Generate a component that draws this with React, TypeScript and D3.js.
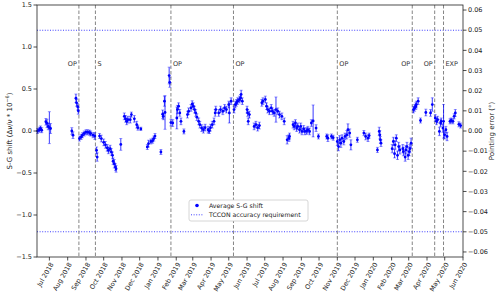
import React, { useEffect, useRef } from 'react';
import * as d3 from 'd3';

// average S-G shift per day: date, shift, 1-sigma error
const dates = [
  '2018-06-11', '2018-06-14', '2018-06-16', '2018-06-18', '2018-06-25', '2018-06-27', '2018-06-29', '2018-07-01', '2018-07-03',
  '2018-08-08', '2018-08-10', '2018-08-15', '2018-08-16', '2018-08-18', '2018-08-19',
  '2018-08-21', '2018-08-24', '2018-08-26', '2018-08-29', '2018-09-01', '2018-09-04', '2018-09-07', '2018-09-09', '2018-09-13', '2018-09-16',
  '2018-09-19', '2018-09-20', '2018-09-24', '2018-09-27', '2018-10-01', '2018-10-04', '2018-10-07', '2018-10-09', '2018-10-12', '2018-10-14',
  '2018-10-16', '2018-10-17', '2018-10-19', '2018-10-21', '2018-10-22', '2018-10-30',
  '2018-11-05', '2018-11-07', '2018-11-09', '2018-11-11', '2018-11-15', '2018-11-17', '2018-11-22', '2018-11-26', '2018-11-28', '2018-12-03',
  '2018-12-14', '2018-12-16', '2018-12-20', '2018-12-23', '2018-12-25', '2018-12-27', '2019-01-06',
  '2019-01-09', '2019-01-10', '2019-01-12', '2019-01-13', '2019-01-20', '2019-01-21', '2019-01-23',
  '2019-01-26', '2019-02-02', '2019-02-03', '2019-02-05', '2019-02-07', '2019-02-09', '2019-02-14',
  '2019-02-20', '2019-02-22', '2019-02-26', '2019-02-28', '2019-03-02', '2019-03-04', '2019-03-06', '2019-03-08', '2019-03-11', '2019-03-13',
  '2019-03-16', '2019-03-19', '2019-03-22', '2019-03-27', '2019-03-29', '2019-03-31', '2019-04-03', '2019-04-06', '2019-04-08', '2019-04-09',
  '2019-04-14', '2019-04-17', '2019-04-21', '2019-04-24', '2019-04-27', '2019-05-01', '2019-05-02', '2019-05-05',
  '2019-05-10', '2019-05-12', '2019-05-14', '2019-05-16', '2019-05-19', '2019-05-21', '2019-05-22', '2019-05-24',
  '2019-06-01', '2019-06-02', '2019-06-03', '2019-06-05', '2019-06-13', '2019-06-16', '2019-06-19', '2019-06-22',
  '2019-06-26', '2019-06-28', '2019-07-02', '2019-07-04', '2019-07-06', '2019-07-09', '2019-07-12', '2019-07-14', '2019-07-17', '2019-07-20',
  '2019-07-23', '2019-07-26', '2019-07-30', '2019-08-03', '2019-08-08', '2019-08-11', '2019-08-12',
  '2019-08-18', '2019-08-20', '2019-08-22', '2019-08-24', '2019-08-26', '2019-08-29', '2019-08-31', '2019-09-02', '2019-09-05', '2019-09-07',
  '2019-09-10', '2019-09-12', '2019-09-15', '2019-09-18', '2019-09-21', '2019-09-26', '2019-09-30',
  '2019-10-14', '2019-10-16', '2019-10-22', '2019-10-25',
  '2019-11-01', '2019-11-03', '2019-11-05', '2019-11-07', '2019-11-09', '2019-11-12', '2019-11-14', '2019-11-17', '2019-11-19', '2019-11-22', '2019-11-24',
  '2019-12-05', '2019-12-16', '2019-12-19', '2019-12-23', '2019-12-25',
  '2020-01-08', '2020-01-11', '2020-01-12', '2020-01-13', '2020-01-14',
  '2020-02-02', '2020-02-04', '2020-02-06', '2020-02-07', '2020-02-09', '2020-02-11', '2020-02-13', '2020-02-15', '2020-02-20', '2020-02-21',
  '2020-02-24', '2020-02-25', '2020-02-27', '2020-02-29', '2020-03-02', '2020-03-03', '2020-03-05',
  '2020-03-09', '2020-03-11', '2020-03-13', '2020-03-14', '2020-03-17', '2020-03-21', '2020-03-30', '2020-04-07', '2020-04-10',
  '2020-04-15', '2020-04-17', '2020-04-19', '2020-04-22', '2020-04-24', '2020-04-25', '2020-04-28', '2020-04-29', '2020-05-01', '2020-05-03', '2020-05-05',
  '2020-05-10', '2020-05-12', '2020-05-15', '2020-05-17', '2020-05-19', '2020-05-25', '2020-05-28',
];

const shift = [
  0.0, 0.015, 0.03, 0.01, 0.11, 0.09, 0.055, 0.04, 0.03,
  0.0, -0.05, 0.39, 0.335, 0.29, 0.24,
  -0.09, -0.07, -0.05, -0.03, -0.015, -0.015, -0.02, -0.03, -0.05, -0.06,
  -0.23, -0.31, -0.06, -0.09, -0.135, -0.165, -0.2, -0.23, -0.21, -0.25,
  -0.29, -0.36, -0.39, -0.43, -0.45, -0.16,
  0.175, 0.145, 0.115, 0.135, 0.135, 0.195, 0.145, 0.075, 0.04, 0.025,
  -0.19, -0.15, -0.125, -0.115, -0.09, -0.06, -0.25,
  0.2, 0.175, 0.355, 0.22, 0.66, 0.58, 0.1,
  0.095, 0.155, 0.255, 0.295, 0.215, 0.115, -0.005,
  0.195, 0.235, 0.275, 0.32, 0.295, 0.255, 0.215, 0.165, 0.115, 0.075,
  0.035, 0.015, 0.04, 0.015, 0.0, 0.04, 0.075, 0.115, 0.215, 0.255,
  0.215, 0.255, 0.235, 0.275, 0.255, 0.315, 0.215, 0.355,
  0.255, 0.315, 0.335, 0.355, 0.375, 0.395, 0.435, 0.355,
  0.255, 0.215, 0.115, 0.195, 0.055, 0.075, 0.04, 0.065,
  0.335, 0.355, 0.375, 0.295, 0.255, 0.235, 0.275, 0.235, 0.215, 0.255,
  0.235, 0.195, 0.175, 0.115, -0.105, -0.085, -0.065,
  0.075, 0.055, 0.095, 0.035, 0.055, 0.015, 0.055, -0.005, 0.025, -0.005,
  0.0, 0.015, -0.005, 0.095, 0.12, 0.035, -0.065,
  -0.065, -0.085, -0.065, -0.08,
  -0.125, -0.185, -0.105, -0.145, -0.085, -0.125, -0.065, -0.045, 0.015, -0.025, -0.165,
  -0.105, -0.025, -0.065, -0.085, -0.055,
  -0.225, -0.005, -0.045, -0.105, -0.145,
  -0.21, -0.125, -0.27, -0.165, -0.085, -0.29, -0.185, -0.225, -0.21, -0.245,
  -0.31, -0.225, -0.185, -0.29, -0.245, -0.21, -0.145,
  0.255, 0.275, 0.295, 0.315, 0.355, 0.125, 0.22, 0.215, 0.315,
  0.155, 0.115, 0.135, -0.005, 0.095, 0.115, 0.035, 0.115, -0.045, 0.015, -0.065,
  0.115, 0.125, 0.115, 0.175, 0.215, 0.08, 0.065,
];

const errors = [
  0.03, 0.03, 0.03, 0.03, 0.04, 0.05, 0.04, 0.19, 0.06,
  0.04, 0.04, 0.05, 0.04, 0.04, 0.04,
  0.03, 0.03, 0.03, 0.03, 0.03, 0.03, 0.03, 0.03, 0.03, 0.04,
  0.04, 0.05, 0.03, 0.04, 0.04, 0.04, 0.04, 0.04, 0.04, 0.04,
  0.04, 0.04, 0.05, 0.04, 0.04, 0.07,
  0.04, 0.04, 0.04, 0.04, 0.04, 0.03, 0.04, 0.04, 0.03, 0.02,
  0.03, 0.04, 0.03, 0.03, 0.03, 0.03, 0.03,
  0.05, 0.04, 0.06, 0.2, 0.1, 0.06, 0.04,
  0.04, 0.13, 0.05, 0.04, 0.04, 0.04, 0.03,
  0.04, 0.04, 0.04, 0.04, 0.04, 0.04, 0.04, 0.04, 0.04, 0.04,
  0.04, 0.04, 0.04, 0.04, 0.03, 0.04, 0.04, 0.04, 0.04, 0.04,
  0.04, 0.04, 0.04, 0.04, 0.04, 0.04, 0.12, 0.04,
  0.04, 0.04, 0.04, 0.04, 0.04, 0.04, 0.05, 0.04,
  0.04, 0.04, 0.04, 0.04, 0.04, 0.04, 0.04, 0.04,
  0.04, 0.04, 0.04, 0.04, 0.04, 0.04, 0.04, 0.04, 0.04, 0.15,
  0.04, 0.04, 0.04, 0.04, 0.05, 0.04, 0.04,
  0.04, 0.04, 0.04, 0.04, 0.04, 0.04, 0.04, 0.04, 0.04, 0.04,
  0.04, 0.04, 0.04, 0.04, 0.19, 0.04, 0.03,
  0.03, 0.04, 0.03, 0.03,
  0.05, 0.05, 0.05, 0.05, 0.04, 0.04, 0.04, 0.05, 0.07, 0.05, 0.06,
  0.03, 0.03, 0.04, 0.04, 0.03,
  0.03, 0.05, 0.05, 0.04, 0.04,
  0.05, 0.05, 0.05, 0.05, 0.04, 0.05, 0.05, 0.05, 0.05, 0.05,
  0.05, 0.05, 0.05, 0.05, 0.05, 0.05, 0.06,
  0.04, 0.04, 0.04, 0.04, 0.04, 0.03, 0.04, 0.04, 0.08,
  0.04, 0.04, 0.04, 0.05, 0.04, 0.04, 0.05, 0.2, 0.05, 0.04, 0.05,
  0.03, 0.03, 0.03, 0.03, 0.04, 0.03, 0.03,
];

// instrument events (dashed lines)
const eventDates = ['2018-08-20', '2018-09-17', '2019-01-23', '2019-05-09', '2019-11-01', '2020-03-07', '2020-04-14', '2020-04-29'];
const eventLabels = ['OP', 'S', 'OP', 'OP', 'OP', 'OP', 'OP', 'EXP'];
const eventSide = ['left', 'right', 'right', 'right', 'right', 'left', 'left', 'right'];

const leftTicks = [-1.5, -1.0, -0.5, 0.0, 0.5, 1.0, 1.5];
const rightTicks = [-0.06, -0.05, -0.04, -0.03, -0.02, -0.01, 0.0, 0.01, 0.02, 0.03, 0.04, 0.05, 0.06];
const tcconLimit = 1.2;

const W = 500;
const H = 292;
const margin = { top: 5, right: 37, bottom: 38, left: 37 };

const App: React.FC = () => {
  const svgRef = useRef<SVGSVGElement>(null);

  useEffect(() => {
    if (!svgRef.current) return;
    const svg = d3.select(svgRef.current);
    svg.selectAll('*').remove();

    const parse = d3.timeParse('%Y-%m-%d');
    const x0 = margin.left;
    const x1 = W - margin.right;
    const y0 = margin.top;
    const y1 = H - margin.bottom + 3;

    const x = d3.scaleTime()
      .domain([parse('2018-06-10')!, parse('2020-06-01')!])
      .range([x0, x1]);
    const y = d3.scaleLinear().domain([-1.5, 1.5]).range([y1, y0]);
    const yR = d3.scaleLinear().domain([-0.0625, 0.0625]).range([y1, y0]);

    const font = 'DejaVu Sans, sans-serif';
    const pts = dates.map((d, i) => ({ t: parse(d)!, v: shift[i], e: errors[i] }));

    // TCCON accuracy lines
    [tcconLimit, -tcconLimit].forEach((v) => {
      svg.append('line')
        .attr('x1', x0).attr('x2', x1)
        .attr('y1', y(v)).attr('y2', y(v))
        .attr('stroke', '#0000ff').attr('stroke-width', 1.1)
        .attr('stroke-dasharray', '1,1.6').attr('opacity', 0.75);
    });

    // event lines + labels
    eventDates.forEach((d, i) => {
      const ex = x(parse(d)!);
      svg.append('line')
        .attr('x1', ex).attr('x2', ex).attr('y1', y0).attr('y2', y1)
        .attr('stroke', '#777').attr('stroke-width', 0.9)
        .attr('stroke-dasharray', '3.5,2');
      svg.append('text')
        .attr('x', eventSide[i] === 'left' ? ex - 2 : ex + 2)
        .attr('y', y(0.8))
        .attr('dy', '0.35em')
        .attr('text-anchor', eventSide[i] === 'left' ? 'end' : 'start')
        .attr('font-family', font).attr('font-size', 6.5).attr('fill', '#333')
        .text(eventLabels[i]);
    });

    // error bars
    const g = svg.append('g');
    g.selectAll('line.eb')
      .data(pts).join('line')
      .attr('x1', (d) => x(d.t)).attr('x2', (d) => x(d.t))
      .attr('y1', (d) => y(d.v - d.e)).attr('y2', (d) => y(d.v + d.e))
      .attr('stroke', '#0000ff').attr('stroke-width', 1.1).attr('opacity', 0.7);
    [-1, 1].forEach((s) => {
      g.selectAll(`line.cap${s}`)
        .data(pts).join('line')
        .attr('x1', (d) => x(d.t) - 1.5).attr('x2', (d) => x(d.t) + 1.5)
        .attr('y1', (d) => y(d.v + s * d.e)).attr('y2', (d) => y(d.v + s * d.e))
        .attr('stroke', '#0000ff').attr('stroke-width', 0.8).attr('opacity', 0.5);
    });
    g.selectAll('circle')
      .data(pts).join('circle')
      .attr('cx', (d) => x(d.t)).attr('cy', (d) => y(d.v))
      .attr('r', 1.4).attr('fill', '#0000ff');

    // frame
    svg.append('rect')
      .attr('x', x0).attr('y', y0).attr('width', x1 - x0).attr('height', y1 - y0)
      .attr('fill', 'none').attr('stroke', '#222').attr('stroke-width', 0.8);

    // left axis
    const gl = svg.append('g');
    leftTicks.forEach((v) => {
      gl.append('line').attr('x1', x0 - 3.5).attr('x2', x0).attr('y1', y(v)).attr('y2', y(v))
        .attr('stroke', '#222').attr('stroke-width', 0.8);
      gl.append('text').attr('x', x0 - 5).attr('y', y(v)).attr('dy', '0.35em')
        .attr('text-anchor', 'end').attr('font-family', font).attr('font-size', 6.5).attr('fill', '#222')
        .text(d3.format('.1f')(v).replace('-', '\u2212'));
    });

    // right axis
    const gr = svg.append('g');
    rightTicks.forEach((v) => {
      gr.append('line').attr('x1', x1).attr('x2', x1 + 3.5).attr('y1', yR(v)).attr('y2', yR(v))
        .attr('stroke', '#222').attr('stroke-width', 0.8);
      gr.append('text').attr('x', x1 + 5).attr('y', yR(v)).attr('dy', '0.35em')
        .attr('text-anchor', 'start').attr('font-family', font).attr('font-size', 6.5).attr('fill', '#222')
        .text(d3.format('.2f')(v).replace('-', '\u2212'));
    });

    // bottom axis
    const months = d3.timeMonth.range(parse('2018-07-01')!, parse('2020-06-02')!);
    const fmt = d3.timeFormat('%b %Y');
    months.forEach((m) => {
      const mx = x(m);
      svg.append('line').attr('x1', mx).attr('x2', mx).attr('y1', y1).attr('y2', y1 + 3.5)
        .attr('stroke', '#222').attr('stroke-width', 0.8);
      svg.append('text')
        .attr('transform', `translate(${mx + 2.5},${y1 + 6}) rotate(-60)`)
        .attr('dy', '0.35em')
        .attr('text-anchor', 'end').attr('font-family', font).attr('font-size', 6.5).attr('fill', '#222')
        .text(fmt(m));
    });

    // axis titles
    const tl = svg.append('text')
      .attr('transform', `translate(12,${(y0 + y1) / 2}) rotate(-90)`)
      .attr('text-anchor', 'middle').attr('font-family', font).attr('font-size', 7).attr('fill', '#222');
    tl.append('tspan').text('S-G shift (\u0394');
    tl.append('tspan').attr('font-style', 'italic').text('\u03bd');
    tl.append('tspan').text('/');
    tl.append('tspan').attr('font-style', 'italic').text('\u03bd');
    tl.append('tspan').text(' * 10');
    tl.append('tspan').attr('font-size', 5).attr('dy', -3).text('\u22126');
    tl.append('tspan').attr('dy', 3).text(')');

    svg.append('text')
      .attr('transform', `translate(494,${(y0 + y1) / 2}) rotate(-90)`)
      .attr('text-anchor', 'middle').attr('font-family', font).attr('font-size', 7).attr('fill', '#222')
      .text('Pointing error (\u00b0)');

    // legend
    const lg = svg.append('g').attr('transform', 'translate(189,200)');
    lg.append('rect').attr('width', 119).attr('height', 21).attr('rx', 2)
      .attr('fill', 'white').attr('stroke', '#ccc').attr('stroke-width', 0.8);
    lg.append('circle').attr('cx', 8).attr('cy', 5.5).attr('r', 1.8).attr('fill', '#0000ff');
    lg.append('text').attr('x', 20).attr('y', 5.5).attr('dy', '0.35em')
      .attr('font-family', font).attr('font-size', 6.2).attr('fill', '#222').text('Average S-G shift');
    lg.append('line').attr('x1', 2).attr('x2', 15).attr('y1', 14.8).attr('y2', 14.8)
      .attr('stroke', '#0000ff').attr('stroke-width', 1).attr('stroke-dasharray', '1,1.6').attr('opacity', 0.75);
    lg.append('text').attr('x', 20).attr('y', 14.8).attr('dy', '0.35em')
      .attr('font-family', font).attr('font-size', 6.2).attr('fill', '#222').text('TCCON accuracy requirement');
  }, []);

  return (
    <div style={{ position: 'absolute', left: 0, top: 0, width: W, height: H, background: 'white' }}>
      <svg ref={svgRef} width={W} height={H} />
    </div>
  );
};

export default App;
